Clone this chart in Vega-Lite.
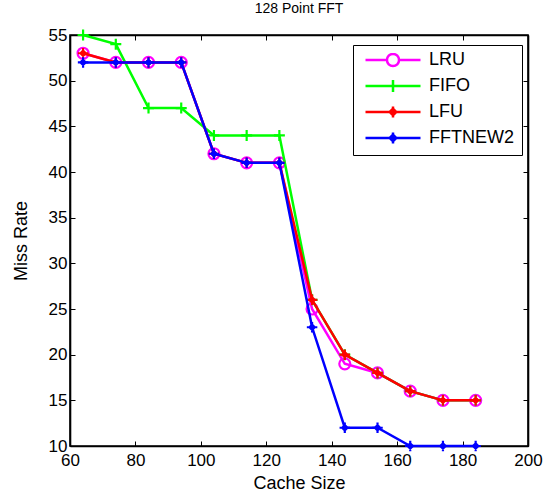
{
  "$schema": "https://vega.github.io/schema/vega-lite/v6.json",
  "autosize": {"type": "none"},
  "width": 458,
  "height": 411,
  "padding": {"left": 70, "top": 35, "right": 22, "bottom": 50},
  "background": "white",
  "title": {"text": "128 Point FFT", "fontSize": 14, "fontWeight": "normal", "font": "Liberation Sans", "color": "black", "offset": 9},
  "config": {
    "view": {"stroke": "black", "strokeWidth": 1.6},
    "axis": {"grid": false, "labelFlush": false, "domainColor": "black", "domainWidth": 1.6, "tickColor": "black", "tickWidth": 1, "tickSize": -5, "labelFont": "Liberation Sans", "labelFontSize": 17, "labelColor": "black", "titleFont": "Liberation Sans", "titleFontSize": 18, "titleFontWeight": "normal", "titleColor": "black"},
    "legend": {"labelFont": "Liberation Sans", "labelFontSize": 18, "labelColor": "black"}
  },
  "resolve": {"axis": {"x": "independent", "y": "independent"}},
  "data": {"values": [
    {"series": "LRU", "x": 64, "y": 53}, {"series": "LRU", "x": 74, "y": 52}, {"series": "LRU", "x": 84, "y": 52}, {"series": "LRU", "x": 94, "y": 52}, {"series": "LRU", "x": 104, "y": 42}, {"series": "LRU", "x": 114, "y": 41}, {"series": "LRU", "x": 124, "y": 41}, {"series": "LRU", "x": 134, "y": 25}, {"series": "LRU", "x": 144, "y": 19}, {"series": "LRU", "x": 154, "y": 18}, {"series": "LRU", "x": 164, "y": 16}, {"series": "LRU", "x": 174, "y": 15}, {"series": "LRU", "x": 184, "y": 15},
    {"series": "FIFO", "x": 64, "y": 55}, {"series": "FIFO", "x": 74, "y": 54}, {"series": "FIFO", "x": 84, "y": 47}, {"series": "FIFO", "x": 94, "y": 47}, {"series": "FIFO", "x": 104, "y": 44}, {"series": "FIFO", "x": 114, "y": 44}, {"series": "FIFO", "x": 124, "y": 44}, {"series": "FIFO", "x": 134, "y": 26}, {"series": "FIFO", "x": 144, "y": 20}, {"series": "FIFO", "x": 154, "y": 18}, {"series": "FIFO", "x": 164, "y": 16}, {"series": "FIFO", "x": 174, "y": 15}, {"series": "FIFO", "x": 184, "y": 15},
    {"series": "LFU", "x": 64, "y": 53}, {"series": "LFU", "x": 74, "y": 52}, {"series": "LFU", "x": 84, "y": 52}, {"series": "LFU", "x": 94, "y": 52}, {"series": "LFU", "x": 104, "y": 42}, {"series": "LFU", "x": 114, "y": 41}, {"series": "LFU", "x": 124, "y": 41}, {"series": "LFU", "x": 134, "y": 26}, {"series": "LFU", "x": 144, "y": 20}, {"series": "LFU", "x": 154, "y": 18}, {"series": "LFU", "x": 164, "y": 16}, {"series": "LFU", "x": 174, "y": 15}, {"series": "LFU", "x": 184, "y": 15},
    {"series": "FFTNEW2", "x": 64, "y": 52}, {"series": "FFTNEW2", "x": 74, "y": 52}, {"series": "FFTNEW2", "x": 84, "y": 52}, {"series": "FFTNEW2", "x": 94, "y": 52}, {"series": "FFTNEW2", "x": 104, "y": 42}, {"series": "FFTNEW2", "x": 114, "y": 41}, {"series": "FFTNEW2", "x": 124, "y": 41}, {"series": "FFTNEW2", "x": 134, "y": 23}, {"series": "FFTNEW2", "x": 144, "y": 12}, {"series": "FFTNEW2", "x": 154, "y": 12}, {"series": "FFTNEW2", "x": 164, "y": 10}, {"series": "FFTNEW2", "x": 174, "y": 10}, {"series": "FFTNEW2", "x": 184, "y": 10}
  ]},
  "layer": [
    {
      "transform": [{"filter": "datum.series == 'LRU'"}],
      "mark": {"type": "line", "strokeWidth": 2.5, "point": {"shape": "circle", "filled": false, "size": 121, "strokeWidth": 2.2, "stroke": "#ff00ff", "fill": "transparent"}},
      "encoding": {
        "x": {"field": "x", "type": "quantitative", "scale": {"domain": [60, 200], "nice": false}, "axis": {"title": "Cache Size", "values": [60, 80, 100, 120, 140, 160, 180, 200], "labelPadding": 11, "titlePadding": 6}},
        "y": {"field": "y", "type": "quantitative", "scale": {"domain": [10, 55], "nice": false, "zero": false}, "axis": {"title": "Miss Rate", "values": [10, 15, 20, 25, 30, 35, 40, 45, 50, 55], "labelPadding": 8, "titlePadding": 18}},
        "color": {"field": "series", "type": "nominal", "scale": {"domain": ["LRU", "FIFO", "LFU", "FFTNEW2"], "range": ["#ff00ff", "#00ff00", "#ff0000", "#0000ff"]},
          "legend": {"orient": "none", "legendX": 283, "legendY": 10, "title": null, "strokeColor": "black", "fillColor": "white", "padding": 8, "symbolSize": 3025, "clipHeight": 14, "rowPadding": 8, "labelOffset": 7, "symbolOffset": 3, "symbolStrokeWidth": 2.5,
            "encode": {"symbols": {"update": {
              "shape": {"signal": "datum.value == 'LRU' ? 'M-1,0H-0.22M0.22,0H1M0.22,0A0.22,0.22 0 1,1 -0.22,0A0.22,0.22 0 1,1 0.22,0' : datum.value == 'FIFO' ? 'M-1,0H1M0,-0.22V0.22' : 'M-1,0H1M0,-0.2V0.2M-0.12,0L0,-0.12L0.12,0L0,0.12Z'"},
              "fill": {"signal": "(datum.value == 'LFU' || datum.value == 'FFTNEW2') ? scale('color', datum.value) : 'transparent'"},
              "fillOpacity": {"signal": "(datum.value == 'LFU' || datum.value == 'FFTNEW2') ? 1 : 0"},
              "stroke": {"signal": "scale('color', datum.value)"},
              "strokeWidth": {"value": 2.5},
              "opacity": {"value": 1}
            }}}}
        }
      }
    },
    {
      "transform": [{"filter": "datum.series == 'FIFO'"}],
      "mark": {"type": "line", "strokeWidth": 2.5, "point": {"shape": "M-1,0H1M0,-1V1", "filled": false, "size": 121, "strokeWidth": 2.2, "stroke": "#00ff00"}},
      "encoding": {
        "x": {"field": "x", "type": "quantitative", "axis": {"orient": "top", "labels": false, "title": null, "values": [60, 80, 100, 120, 140, 160, 180, 200]}},
        "y": {"field": "y", "type": "quantitative", "axis": {"orient": "right", "labels": false, "title": null, "values": [10, 15, 20, 25, 30, 35, 40, 45, 50, 55]}},
        "color": {"field": "series", "type": "nominal"}
      }
    },
    {
      "transform": [{"filter": "datum.series == 'LFU'"}],
      "mark": {"type": "line", "strokeWidth": 2.5, "point": {"shape": "M-1,0H1M0,-1V1M-0.5,0L0,-0.5L0.5,0L0,0.5Z", "filled": true, "size": 110, "strokeWidth": 2.2, "stroke": "#ff0000", "fill": "#ff0000"}},
      "encoding": {
        "x": {"field": "x", "type": "quantitative", "axis": null},
        "y": {"field": "y", "type": "quantitative", "axis": null},
        "color": {"field": "series", "type": "nominal"}
      }
    },
    {
      "transform": [{"filter": "datum.series == 'FFTNEW2'"}],
      "mark": {"type": "line", "strokeWidth": 2.5, "point": {"shape": "M-1,0H1M0,-1V1M-0.5,0L0,-0.5L0.5,0L0,0.5Z", "filled": true, "size": 110, "strokeWidth": 2.2, "stroke": "#0000ff", "fill": "#0000ff"}},
      "encoding": {
        "x": {"field": "x", "type": "quantitative", "axis": null},
        "y": {"field": "y", "type": "quantitative", "axis": null},
        "color": {"field": "series", "type": "nominal"}
      }
    }
  ]
}
